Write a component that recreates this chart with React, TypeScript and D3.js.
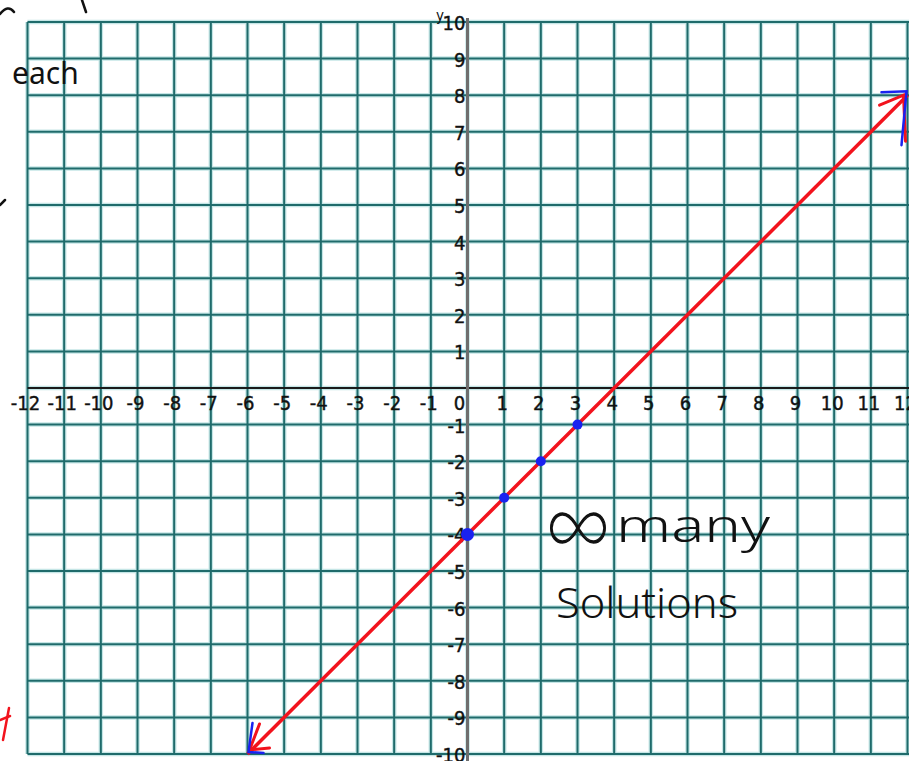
import React from "react";
import * as d3 from "d3";

// Coordinate plane extent
const xTicks = d3.range(-12, 13);
const yTicks = d3.range(-10, 11);

// Line y = x - 4, drawn between its arrow tips
const lineEnds: [number, number][] = [
  [-6, -10],
  [12, 8],
];

// Plotted solution points
const points: [number, number][] = [
  [0, -4],
  [1, -3],
  [2, -2],
  [3, -1],
];

const W = 909;
const H = 761;

export default function App() {
  const x = d3.scaleLinear().domain([-12, 12]).range([27.5, 907.5]);
  const y = d3.scaleLinear().domain([10, -10]).range([22, 754]);

  const gridColor = "#1f6b6b";
  const haloColor = "#9fd6d6";
  const tickFont = "'DejaVu Sans Condensed', 'Liberation Sans Narrow', 'DejaVu Sans', sans-serif";
  const hand = "'Noto Sans', 'DejaVu Sans', sans-serif";

  const line = d3.line<[number, number]>().x((d) => x(d[0])).y((d) => y(d[1]));

  const [t0, t1] = [lineEnds[0], lineEnds[1]];
  const tipA = [x(t0[0]), y(t0[1])];
  const tipB = [x(t1[0]), y(t1[1])];

  return (
    <svg
      width={W}
      height={H}
      style={{ position: "absolute", left: 0, top: 0, background: "#fff" }}
    >
      {/* grid halo */}
      <g stroke={haloColor} strokeWidth={4.5} opacity={0.6}>
        {xTicks.map((t) => (
          <line key={"hx" + t} x1={x(t)} x2={x(t)} y1={y(10)} y2={y(-10)} />
        ))}
        {yTicks.map((t) => (
          <line key={"hy" + t} x1={x(-12)} x2={W} y1={y(t)} y2={y(t)} />
        ))}
      </g>
      {/* grid */}
      <g stroke={gridColor} strokeWidth={2}>
        {xTicks.map((t) => (
          <line key={"gx" + t} x1={x(t)} x2={x(t)} y1={y(10)} y2={y(-10)} />
        ))}
        {yTicks.map((t) => (
          <line key={"gy" + t} x1={x(-12)} x2={W} y1={y(t)} y2={y(t)} />
        ))}
      </g>

      {/* axes */}
      <line x1={x(-12)} x2={W} y1={y(0)} y2={y(0)} stroke="#1a1a1a" strokeWidth={2} />
      <line x1={x(0)} x2={x(0)} y1={y(10) - 4} y2={H} stroke="#6e6e6e" strokeWidth={3} />

      {/* x tick labels */}
      <g fontFamily={tickFont} fontSize={20} fill="#111" textAnchor="middle" stroke="#111" strokeWidth={0.4}>
        {xTicks.map((t) => (
          <text key={"xl" + t} x={x(t) + (t === 0 ? -8 : -2)} y={y(0) + 22}>
            {t}
          </text>
        ))}
      </g>

      {/* y tick labels */}
      <g fontFamily={tickFont} fontSize={20} fill="#111" textAnchor="end" stroke="#111" strokeWidth={0.4}>
        {yTicks
          .filter((t) => t !== 0)
          .map((t) => (
            <text key={"yl" + t} x={x(0) - 2} y={y(t) + 8}>
              {t}
            </text>
          ))}
      </g>
      <text x={436} y={21} fontFamily={tickFont} fontSize={15} fill="#111">
        y
      </text>

      {/* the line */}
      <path d={line(lineEnds) ?? ""} stroke="#f2131d" strokeWidth={3.5} fill="none" />

      {/* arrowheads, red */}
      <g stroke="#f2131d" strokeWidth={3} fill="none" strokeLinecap="round">
        <path d={`M${tipB[0] - 28},${tipB[1] + 10} L${tipB[0] - 4},${tipB[1]} L${tipB[0] - 2},${tipB[1] + 46}`} />
        <path d={`M${tipA[0] + 12},${tipA[1] - 30} L${tipA[0] + 2},${tipA[1] - 4} L${tipA[0] + 22},${tipA[1] - 6}`} />
      </g>
      {/* arrowheads, blue overlay */}
      <g stroke="#1a22f0" strokeWidth={2.5} fill="none" strokeLinecap="round">
        <path d={`M${tipB[0] - 26},${tipB[1] - 3} L${tipB[0] - 1},${tipB[1] - 4} L${tipB[0] - 6},${tipB[1] + 50}`} />
        <path d={`M${tipA[0] + 5},${tipA[1] - 31} L${tipA[0] + 1},${tipA[1] - 2} L${tipA[0] + 16},${tipA[1] - 1}`} />
      </g>

      {/* points */}
      <g fill="#1a22f0">
        {points.map((p, i) => (
          <circle key={"p" + i} cx={x(p[0])} cy={y(p[1])} r={i === 0 ? 6.5 : 5} />
        ))}
      </g>

      {/* annotations */}
      <g fontFamily={hand} fill="#111">
        <text x={12} y={84} fontSize={30}>each</text>
        <text x={546} y={556} fontSize={90} fontFamily="Inter, Lato, sans-serif" fontWeight={100} stroke="#111" strokeWidth={1.4} textLength={64} lengthAdjust="spacingAndGlyphs">∞</text>
        <text x={616} y={542} fontSize={46} fontWeight={300} textLength={154} lengthAdjust="spacingAndGlyphs">many</text>
        <text x={556} y={618} fontSize={42} fontWeight={300} textLength={182} lengthAdjust="spacingAndGlyphs">Solutions</text>
      </g>
      <g stroke="#111" strokeWidth={2.5} fill="none" strokeLinecap="round">
        <path d="M0,14 Q8,4 14,12" />
        <path d="M82,0 L86,12" />
        <path d="M0,205 L5,200" />
      </g>
      <g stroke="#f2131d" strokeWidth={2.5} fill="none" strokeLinecap="round">
        <path d="M0,720 L10,716" />
        <path d="M9,708 L3,740" />
      </g>
    </svg>
  );
}
